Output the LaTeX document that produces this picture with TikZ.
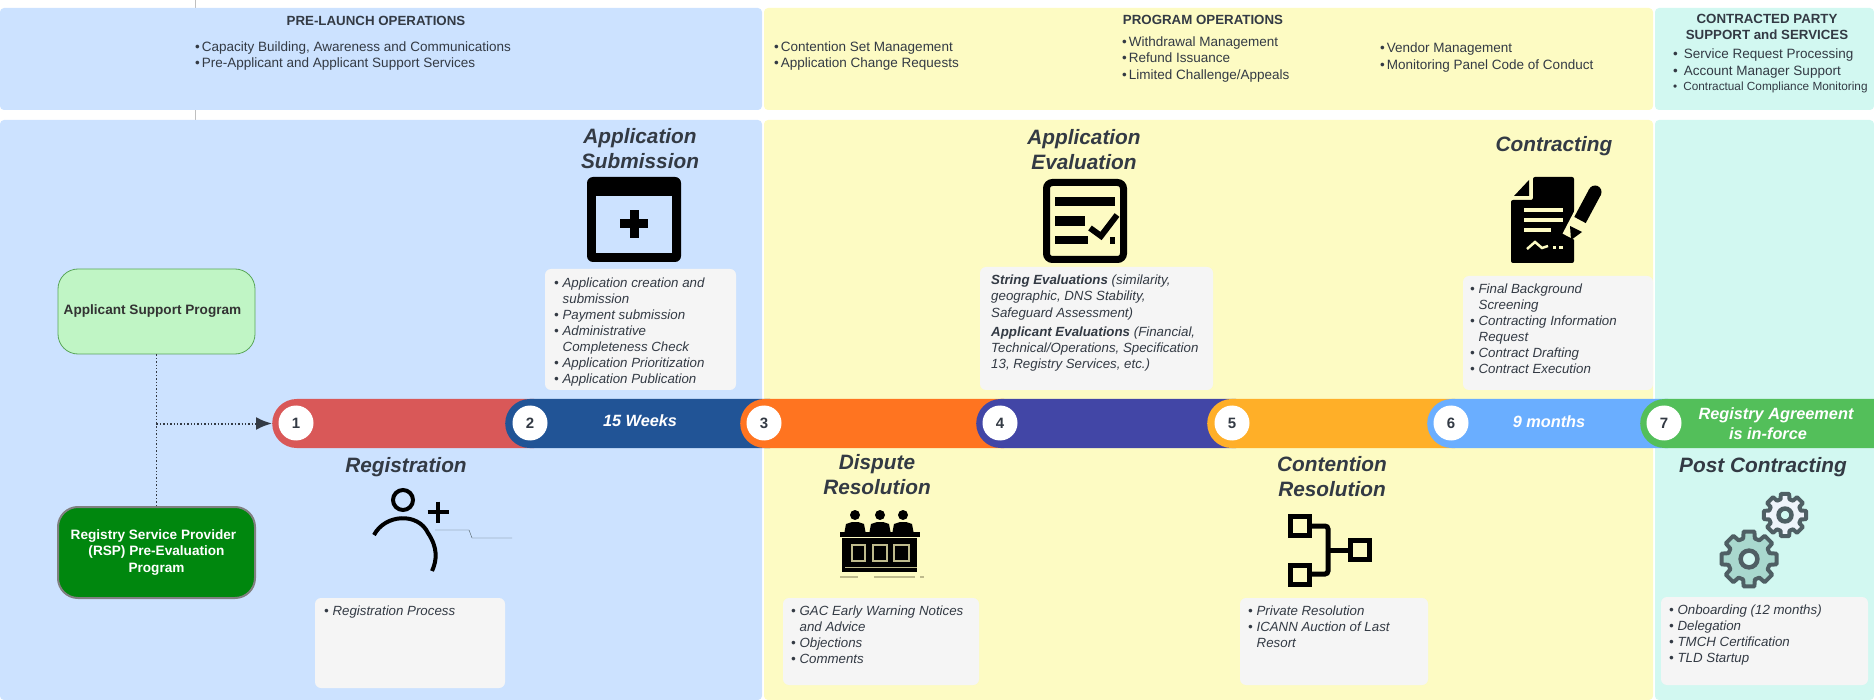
\documentclass[tikz,border=0pt]{standalone}
\usepackage{fontspec}
\setmainfont{Liberation Sans}
\usetikzlibrary{arrows.meta,shapes.misc}
\definecolor{fblue}{RGB}{204, 226, 255}
\definecolor{fyellow}{RGB}{253, 251, 195}
\definecolor{fteal}{RGB}{210, 248, 241}
\definecolor{boxgray}{RGB}{245, 245, 245}
\definecolor{inkgray}{RGB}{51, 58, 68}
\definecolor{lightgreen}{RGB}{192, 245, 197}
\definecolor{darkgreen}{RGB}{0, 135, 14}
\definecolor{segred}{RGB}{217, 88, 88}
\definecolor{segblue}{RGB}{33, 84, 150}
\definecolor{segorange}{RGB}{255, 116, 32}
\definecolor{segindigo}{RGB}{66, 70, 166}
\definecolor{segamber}{RGB}{255, 175, 40}
\definecolor{segsky}{RGB}{106, 174, 255}
\definecolor{seggreen}{RGB}{83, 191, 90}
\definecolor{gearline}{RGB}{79, 95, 100}
\definecolor{gearfill}{RGB}{169, 216, 206}
\definecolor{gearpale}{RGB}{238, 243, 250}
\definecolor{benchtan}{RGB}{190, 186, 140}
\newcommand{\cnt}{\hspace*{8.5pt}}
\newcommand{\blt}{•\hspace{2pt}}
\newcommand{\gearicon}[4]{
  \draw[gearline, line width=4pt, line join=round, fill=#4, shift={(#1,#2)}]
    (-16:#3*0.76pt) \foreach \a in {0,45,...,315} {
      -- (\a-16:#3*0.76pt) -- (\a-11:#3*1pt) -- (\a+11:#3*1pt) -- (\a+16:#3*0.76pt)} -- cycle;
  \draw[gearline, line width=4.5pt, fill=fteal] (#1,#2) circle (#3*0.3pt);
}
\begin{document}
\begin{tikzpicture}[x=1pt,y=-1pt]
    \useasboundingbox (0,0) rectangle (1874,700);
    \tikzstyle{band}=[rounded corners=4pt]
    \tikzstyle{listbox}=[boxgray, rounded corners=6pt]
    \tikzstyle{head}=[inkgray, font=\fontsize{13.3}{16.3}\selectfont\bfseries, align=center, inner sep=0pt]
    \tikzstyle{topic}=[inkgray, font=\fontsize{13.5}{16.4}\selectfont, align=left, anchor=north west, inner sep=0pt]
    \tikzstyle{title}=[inkgray, font=\fontsize{20.8}{25}\selectfont\bfseries\itshape, align=center, inner sep=0pt]
    \tikzstyle{listing}=[inkgray, font=\fontsize{13.3}{16.1}\selectfont\itshape, align=left, anchor=north west, inner sep=0pt]
    \tikzstyle{prog}=[rectangle, rounded corners=20pt, minimum width=197pt, font=\fontsize{13.6}{16.3}\selectfont\bfseries, align=center, inner sep=0pt]
    \tikzstyle{ribbon}=[rounded rectangle, rounded rectangle right arc=none, minimum height=49pt, inner sep=0pt, anchor=west]
    \tikzstyle{stepdot}=[circle, fill=white, minimum size=35pt, inner sep=0pt, text=inkgray, font=\fontsize{15}{15}\selectfont\bfseries]
    \tikzstyle{onribbon}=[white, font=\fontsize{16.3}{20}\selectfont\bfseries\itshape, align=center, inner sep=0pt]

    % bands
    \draw[gray!50, line width=0.5pt] (195,0) -- (195,120);
    \fill[fblue, band] (0,8) rectangle (762,110);
    \fill[fyellow, band] (764,8) rectangle (1653,110);
    \fill[fteal, band] (1655,8) rectangle (1874,110);
    \fill[fblue, band] (0,120) rectangle (762,700);
    \fill[fyellow, band] (764,120) rectangle (1653,700);
    \fill[fteal, band] (1655,120) rectangle (1874,700);

    \node[head] (prelaunch) at (376,21) {PRE-LAUNCH OPERATIONS};
    \node[head] (program) at (1203,20) {PROGRAM OPERATIONS};
    \node[head] (contracted) at (1767,27) {CONTRACTED PARTY\\SUPPORT and SERVICES};
    \node[topic] (t1) at (195,41.5) {\blt Capacity Building, Awareness and Communications\\\blt Pre-Applicant and Applicant Support Services};
    \node[topic] (t2) at (774,41.5) {\blt Contention Set Management\\\blt Application Change Requests};
    \node[topic] (t3) at (1122,36.5) {\blt Withdrawal Management\\\blt Refund Issuance\\\blt Limited Challenge/Appeals};
    \node[topic] (t4) at (1380,43) {\blt Vendor Management\\\blt Monitoring Panel Code of Conduct};
    \node[topic] (t5) at (1673,49) {•\hspace{6pt}Service Request Processing\\•\hspace{6pt}Account Manager Support\\[-1pt]{\fontsize{11.8}{16}\selectfont •\hspace{6pt}Contractual Compliance Monitoring}};

    % list boxes
    \fill[listbox] (545,269) rectangle (736,390);
    \fill[listbox] (980,267) rectangle (1213,390);
    \fill[listbox] (1463,276) rectangle (1653,390);
    \fill[listbox] (315,598) rectangle (505,688);
    \fill[listbox] (783,598) rectangle (979,685);
    \fill[listbox] (1240,598) rectangle (1428,685);
    \fill[listbox] (1661,597) rectangle (1868,685);

    \node[listing] (l2) at (554,277.5) {• Application creation and\\\cnt submission\\• Payment submission\\• Administrative\\\cnt Completeness Check\\• Application Prioritization\\• Application Publication};
    \node[listing] (l4) at (991,275) {\textbf{String Evaluations} (similarity,\\geographic, DNS Stability,\\Safeguard Assessment)\\[3pt]\textbf{Applicant Evaluations} (Financial,\\Technical/Operations, Specification\\13, Registry Services, etc.)};
    \node[listing] (l6) at (1470,283.5) {• Final Background\\\cnt Screening\\• Contracting Information\\\cnt Request\\• Contract Drafting\\• Contract Execution};
    \node[listing] (l1) at (324,605.5) {• Registration Process};
    \node[listing] (l3) at (791,605.5) {• GAC Early Warning Notices\\\cnt and Advice\\• Objections\\• Comments};
    \node[listing] (l5) at (1248,605.5) {• Private Resolution\\• ICANN Auction of Last\\\cnt Resort};
    \node[listing] (l7) at (1669,604.5) {• Onboarding (12 months)\\• Delegation\\• TMCH Certification\\• TLD Startup};

    % titles
    \node[title] (appsub) at (640,149) {Application\\Submission};
    \node[title] (appeval) at (1084,150) {Application\\Evaluation};
    \node[title] (contr) at (1554,146) {Contracting};
    \node[title] (regis) at (406,467) {Registration};
    \node[title] (disp) at (877,475) {Dispute\\Resolution};
    \node[title] (cont) at (1332,477) {Contention\\Resolution};
    \node[title] (post) at (1763,467) {Post Contracting};

    % ribbon
    \foreach \n/\xl/\xr/\col in {1/272/534/segred,2/505/770/segblue,3/740/1004/segorange,4/976/1236/segindigo,5/1207/1455/segamber,6/1427/1668/segsky,7/1640/1874/seggreen}
        \node[ribbon, fill=\col, minimum width=\xr pt-\xl pt] (seg\n) at (\xl,423.5) {};
    \foreach \n/\xc in {1/296,2/530,3/764,4/1000,5/1232,6/1451,7/1664}
        \node[stepdot] (dot\n) at (\xc,423) {\n};
    \node[onribbon] (weeks) at (640,421) {15 Weeks};
    \node[onribbon] (months) at (1549,422) {9 months};
    \node[onribbon] (agree) at (1776,424) {Registry Agreement\\is in-force\hspace*{16pt}};

    % programs
    \node[prog, fill=lightgreen, draw=gray!70!green, thick, minimum height=85pt, text=black!80] (asp) at (156.5,311.5) {Applicant Support Program\hspace*{8pt}};
    \node[prog, fill=darkgreen, draw=gray, line width=2pt, minimum height=91pt, text=white] (rsp) at (156.5,552.5) {Registry Service Provider\hspace*{6pt}\\(RSP) Pre-Evaluation\\Program};
    \coordinate (fork) at (asp.south |- seg1.west);
    \tikzstyle{bind}=[line width=1.4pt, dotted, inkgray]
    \draw[bind] (asp) -- (fork);
    \draw[bind] (rsp) -- (fork);
    \draw[bind, line width=2pt, -{Latex[length=16pt,width=13pt]}] (fork) -- (seg1.west);

    % submission icon
    \fill[black, rounded corners=6pt] (587,177) rectangle (681,262);
    \fill[fblue] (596,196) rectangle (672,253);
    \fill[black] (629.5,210) rectangle (638.5,238);
    \fill[black] (620,219.5) rectangle (648,228.5);

    % evaluation icon
    \draw[black, line width=7pt, rounded corners=6pt] (1046.5,182.5) rectangle (1123.5,259.5);
    \fill[black] (1055,197) rectangle (1115,206);
    \fill[black] (1055,216) rectangle (1085,226);
    \fill[black] (1055,236) rectangle (1088,244);
    \fill[black] (1110,237) rectangle (1115,244);
    \draw[black, line width=6pt] (1090,228) -- (1101,236) -- (1117,215);

    % contracting icon
    \fill[black, rounded corners=2pt] (1533,177) -- (1574,177) -- (1574,263) -- (1511,263) -- (1511,200) -- (1533,200) -- cycle;
    \fill[black] (1529,180) -- (1529,196) -- (1514,196) -- cycle;
    \fill[fyellow] (1524,208) rectangle (1563,212);
    \fill[fyellow] (1524,218) rectangle (1563,222);
    \fill[fyellow] (1524,228) rectangle (1551,232);
    \draw[fyellow, line width=2.5pt] (1527,249) -- (1535,242) -- (1542,248) -- (1548,246);
    \fill[fyellow] (1553,246) rectangle (1556,249);
    \fill[fyellow] (1559,246) rectangle (1563,249);
    \draw[fyellow, line width=19pt] (1596,190) -- (1571,238);
    \draw[black, line width=13pt] (1595,192) -- (1580,220);
    \fill[black] (1595,192) circle (6.5pt);
    \fill[black] (1570,226) -- (1582,232) -- (1571,240) -- cycle;

    % registration icon
    \draw[black, line width=4pt] (403,500) circle (10pt);
    \draw[black, line width=4pt] (374,535) .. controls (385,514) and (418,512) .. (428,533) .. controls (438,548) and (437,560) .. (432,571);
    \draw[black, line width=4pt] (438,501.5) -- (438,522.5);
    \draw[black, line width=4pt] (427.5,512) -- (448.5,512);
    \draw[gearline, thin] (435,530) -- (469,530) -- (472,538) -- (512,538);

    % dispute icon
    \foreach \xc in {855,880,903} {
        \fill[black] (\xc,515) circle (5pt);
        \fill[black] (\xc-10.5,532) -- (\xc-9,524) -- (\xc-3,522) -- (\xc+3,522) -- (\xc+9,524) -- (\xc+10.5,532) -- cycle;
    }
    \fill[black] (840,532) rectangle (920,537);
    \fill[black] (842,538) rectangle (917,572);
    \foreach \xa/\xb in {852/865,873/887,894/909}
        \draw[benchtan, line width=1.5pt] (\xa,545) rectangle (\xb,561);
    \draw[benchtan, line width=1pt] (845,567.5) -- (917,567.5);
    \draw[benchtan, line width=2pt] (840,577) -- (858,577);
    \draw[benchtan, line width=2pt] (874,577) -- (915,577);
    \draw[benchtan, line width=2pt] (920,577) -- (924,577);

    % contention icon
    \draw[black, line width=5pt] (1290.5,516.5) rectangle (1309.5,535.5);
    \draw[black, line width=5pt] (1290.5,565.5) rectangle (1309.5,584.5);
    \draw[black, line width=5pt] (1350.5,540.5) rectangle (1369,559.5);
    \draw[black, line width=5pt, rounded corners=3pt] (1312,526) -- (1328,526) -- (1328,574) -- (1312,574);
    \draw[black, line width=5pt] (1328,550) -- (1348,550);

    % gears
    \gearicon{1785}{515}{21.5}{gearpale}
    \gearicon{1749}{559}{28}{gearfill}
\end{tikzpicture}
\end{document}
